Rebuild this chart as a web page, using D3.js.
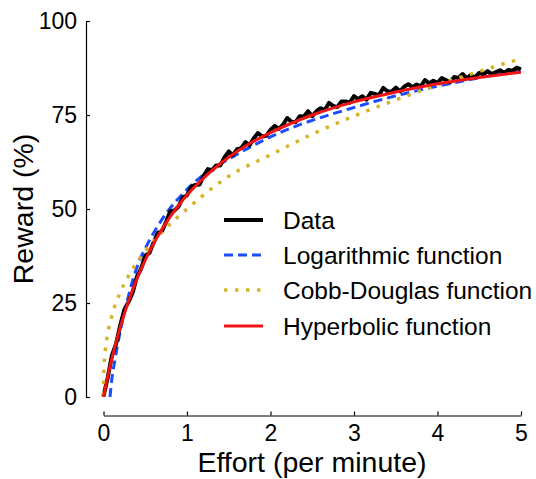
<!DOCTYPE html>
<html>
<head>
<meta charset="utf-8">
<script src="https://cdn.jsdelivr.net/npm/d3@7"></script>
<style>
  body { margin: 0; background: #fff; }
  text { font-family: "Liberation Sans", Arial, Helvetica, sans-serif; fill: #000; }
</style>
</head>
<body>
<div id="chart"></div>
<script>
const WIDTH = 536;
const HEIGHT = 479;

// tick values
const X_TICKS = [0, 1, 2, 3, 4, 5];
const Y_TICKS = [0, 25, 50, 75, 100];

const dataEffort = [
  0, 0.05, 0.1, 0.15, 0.2, 0.25, 0.3, 0.35, 0.4, 0.45,
  0.5, 0.55, 0.6, 0.65, 0.7, 0.75, 0.8, 0.85, 0.9, 0.95,
  1, 1.05, 1.1, 1.15, 1.2, 1.25, 1.3, 1.35, 1.4, 1.45,
  1.5, 1.55, 1.6, 1.65, 1.7, 1.75, 1.8, 1.85, 1.9, 1.95,
  2, 2.05, 2.1, 2.15, 2.2, 2.25, 2.3, 2.35, 2.4, 2.45,
  2.5, 2.55, 2.6, 2.65, 2.7, 2.75, 2.8, 2.85, 2.9, 2.95,
  3, 3.05, 3.1, 3.15, 3.2, 3.25, 3.3, 3.35, 3.4, 3.45,
  3.5, 3.55, 3.6, 3.65, 3.7, 3.75, 3.8, 3.85, 3.9, 3.95,
  4, 4.05, 4.1, 4.15, 4.2, 4.25, 4.3, 4.35, 4.4, 4.45,
  4.5, 4.55, 4.6, 4.65, 4.7, 4.75, 4.8, 4.85, 4.9, 4.95, 5
];
const dataReward = [
  0.2, 5.1, 11.0, 14.1, 19.0, 23.3, 25.3, 27.8, 32.0, 34.1,
  37.6, 38.3, 41.1, 43.7, 44.0, 46.6, 49.4, 49.6, 50.7, 53.1,
  53.6, 55.9, 56.4, 56.5, 58.8, 60.6, 60.3, 61.6, 61.6, 63.8,
  65.3, 64.3, 65.9, 66.2, 67.8, 67.0, 68.8, 70.2, 69.3, 69.5,
  71.0, 72.1, 71.3, 72.4, 74.2, 73.2, 73.1, 74.7, 74.6, 76.0,
  74.7, 76.0, 76.8, 76.3, 78.2, 77.4, 77.1, 78.6, 78.6, 78.3,
  80.0, 79.2, 80.0, 79.1, 80.9, 80.6, 80.3, 82.2, 81.3, 81.2,
  82.3, 81.3, 82.5, 83.2, 82.4, 83.1, 82.6, 84.3, 83.4, 84.1,
  83.5, 84.8, 84.3, 83.7, 85.1, 84.8, 85.9, 84.8, 85.6, 85.0,
  86.2, 85.8, 86.7, 85.9, 86.4, 86.9, 86.2, 87.0, 86.8, 87.6, 87.1
];

// fitted curves
const logEffort = [0.078, 0.1, 0.138, 0.17, 0.218, 0.285, 0.35, 0.437, 0.5, 0.637, 0.75, 0.956, 1.1, 1.3, 1.5, 1.75, 2, 2.3, 2.63, 3, 3.43, 4.03, 4.5, 5];
const logReward = [0, 4.8, 10, 14, 19.3, 25.6, 31, 36.6, 39.5, 45, 48.8, 54.2, 57.3, 60.6, 63.3, 66.4, 69.2, 72, 74.5, 77, 79.7, 82.8, 84.9, 86.8];

const cobbEffort = [0, 0.005, 0.02, 0.05, 0.1, 0.2, 0.3, 0.5, 0.75, 1, 1.5, 2, 2.5, 3, 3.5, 4, 4.5, 5];
const cobbReward = [0.5, 7.2, 12, 16.8, 21.6, 27.8, 32.2, 38.8, 45, 50, 58.7, 64.4, 69.9, 74.7, 79, 83, 86.6, 90];

const hypEffort = [0, 0.05, 0.1, 0.2, 0.3, 0.4, 0.5, 0.6, 0.7, 0.8, 0.9, 1, 1.25, 1.5, 1.75, 2, 2.5, 3, 3.5, 4, 4.5, 5];
const hypReward = [0, 5.4, 10.2, 18.5, 25.5, 31.4, 36.4, 40.8, 44.6, 48, 51, 53.7, 59.3, 63.75, 67.4, 70.3, 75, 78.5, 81.1, 83.3, 85, 86.4];

const legendNames = ["Data", "Logarithmic function", "Cobb-Douglas function", "Hyperbolic function"];

const BLUE = "#1b4cff";
const YELLOW = "#d5b52c";
const RED = "#f01414";

const xScale = d3.scaleLinear().domain([0, 5]).range([103.5, 521]);
const yScale = d3.scaleLinear().domain([0, 100]).range([397, 21]);

const svg = d3.select("#chart").append("svg")
  .attr("width", WIDTH)
  .attr("height", HEIGHT);

// y axis (detached spine, ticks inward)
const yAxis = svg.append("g")
  .attr("transform", "translate(86,0)")
  .call(d3.axisRight(yScale).tickValues(Y_TICKS).tickFormat(d3.format("d")).tickSize(4).tickSizeOuter(0));
yAxis.select(".domain").attr("stroke", "#000").attr("stroke-width", 1.2);
yAxis.selectAll(".tick line").attr("stroke", "#000").attr("stroke-width", 1.2);
yAxis.selectAll(".tick text")
  .attr("x", -9)
  .attr("text-anchor", "end")
  .attr("font-size", 23)
  .attr("font-family", null);

// x axis
const xAxis = svg.append("g")
  .attr("transform", "translate(0,415.5)")
  .call(d3.axisTop(xScale).tickValues(X_TICKS).tickFormat(d3.format("d")).tickSize(4).tickSizeOuter(0));
xAxis.select(".domain").attr("stroke", "#000").attr("stroke-width", 1.2);
xAxis.selectAll(".tick line").attr("stroke", "#000").attr("stroke-width", 1.2);
xAxis.selectAll(".tick text")
  .attr("y", 25)
  .attr("dy", null)
  .attr("font-size", 23)
  .attr("font-family", null);

svg.append("text")
  .attr("x", 312)
  .attr("y", 472)
  .attr("text-anchor", "middle")
  .attr("font-size", 28.5)
  .text("Effort (per minute)");

svg.append("text")
  .attr("transform", "translate(33,209) rotate(-90)")
  .attr("text-anchor", "middle")
  .attr("font-size", 28.5)
  .text("Reward (%)");

const line = d3.line()
  .x((d) => xScale(d[0]))
  .y((d) => yScale(d[1]));

const zip = (xs, ys) => xs.map((x, i) => [x, ys[i]]);

// blue under the data, dots and red on top
svg.append("path")
  .datum(zip(logEffort, logReward))
  .attr("fill", "none")
  .attr("stroke", BLUE)
  .attr("stroke-width", 3)
  .attr("stroke-dasharray", "9,5")
  .attr("d", line.curve(d3.curveMonotoneX));

svg.append("path")
  .datum(zip(dataEffort, dataReward))
  .attr("fill", "none")
  .attr("stroke", "#000")
  .attr("stroke-width", 4)
  .attr("stroke-linejoin", "round")
  .attr("d", line.curve(d3.curveLinear));

svg.append("path")
  .datum(zip(cobbEffort, cobbReward))
  .attr("fill", "none")
  .attr("stroke", YELLOW)
  .attr("stroke-width", 3.5)
  .attr("stroke-dasharray", "3.5,7.5")
  .attr("d", line.curve(d3.curveMonotoneX));

svg.append("path")
  .datum(zip(hypEffort, hypReward))
  .attr("fill", "none")
  .attr("stroke", RED)
  .attr("stroke-width", 3)
  .attr("d", line.curve(d3.curveMonotoneX));

// legend
const legendStyles = [
  { color: "#000", width: 4, dash: null },
  { color: BLUE, width: 3, dash: "9,5" },
  { color: YELLOW, width: 3.5, dash: "3.5,7.5" },
  { color: RED, width: 3, dash: null },
];
const legendY = [220, 255, 290, 326];

const legend = svg.append("g");
legendNames.forEach((name, i) => {
  const s = legendStyles[i];
  legend.append("line")
    .attr("x1", 224)
    .attr("x2", 263)
    .attr("y1", legendY[i])
    .attr("y2", legendY[i])
    .attr("stroke", s.color)
    .attr("stroke-width", s.width)
    .attr("stroke-dasharray", s.dash);
  legend.append("text")
    .attr("x", 283)
    .attr("y", legendY[i])
    .attr("dy", "0.35em")
    .attr("font-size", 24.5)
    .text(name);
});
</script>
</body>
</html>
